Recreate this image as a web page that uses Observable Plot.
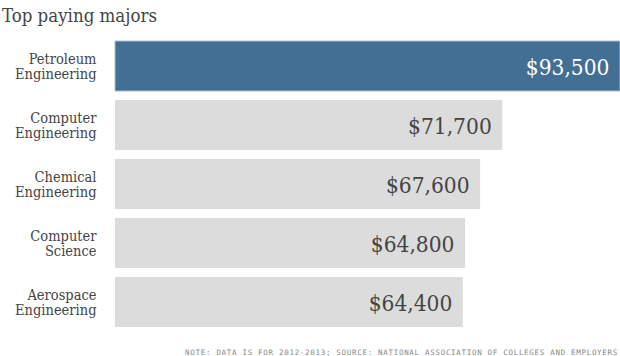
<!DOCTYPE html>
<html>
<head>
<meta charset="utf-8">
<script src="https://cdn.jsdelivr.net/npm/d3@7"></script>
<script src="https://cdn.jsdelivr.net/npm/@observablehq/plot@0.6"></script>
<style>
  html, body { margin: 0; padding: 0; background: #fff; }
  #wrap { position: relative; width: 620px; height: 356px; overflow: hidden; }
  #title { position: absolute; left: 2px; top: 7px; font-family: "DejaVu Serif Condensed", "DejaVu Serif", serif; font-size: 18.5px; color: #444; white-space: nowrap; line-height: 1; }
  #note { position: absolute; right: 2px; top: 348px; font-family: "DejaVu Sans Mono", monospace; font-size: 7.5px; letter-spacing: 0.7px; color: #888; white-space: nowrap; }
  svg text { font-family: "DejaVu Serif Condensed", "DejaVu Serif", serif; }
</style>
</head>
<body>
<div id="wrap">
  <div id="chart"></div>
  <div id="title">Top paying majors</div>
  <div id="note">NOTE: DATA IS FOR 2012-2013; SOURCE: NATIONAL ASSOCIATION OF COLLEGES AND EMPLOYERS</div>
</div>
<script>
const majors = ["Petroleum Engineering", "Computer Engineering", "Chemical Engineering", "Computer Science", "Aerospace Engineering"];
const salaries = [93500, 71700, 67600, 64800, 64400];
const highlighted = ["Petroleum Engineering"];

const data = majors.map((m, i) => ({major: m, salary: salaries[i], hi: highlighted.includes(m)}));
const fmt = d => "$" + d3.format(",")(d);
const serif = "DejaVu Serif Condensed, DejaVu Serif, serif";

const chart = Plot.plot({
  width: 620,
  height: 356,
  marginTop: 41,
  marginBottom: 28,
  marginLeft: 115,
  marginRight: 0,
  style: {fontFamily: serif, background: "transparent"},
  x: {domain: [0, 93500], axis: null},
  y: {domain: majors, paddingInner: 0.15, paddingOuter: 0, label: null},
  marks: [
    Plot.barX(data, {
      y: "major", x: "salary",
      fill: d => d.hi ? "#436f94" : "#dcdcdc",
      stroke: d => d.hi ? "#a9bfd0" : "none",
      strokeWidth: 1
    }),
    Plot.text(data, {
      y: "major", x: "salary",
      text: d => fmt(d.salary),
      textAnchor: "end", dx: -11, dy: 1,
      fontSize: 22.5, fontFamily: serif,
      fill: d => d.hi ? "#ffffff" : "#444444"
    }),
    Plot.axisY({
      tickSize: 0, tickPadding: 19, fontSize: 14.5, lineHeight: 1.02,
      fontFamily: serif,
      tickFormat: d => d.replace(" ", "\n"),
      color: "#444", label: null
    })
  ]
});
document.getElementById("chart").appendChild(chart);
</script>
</body>
</html>
